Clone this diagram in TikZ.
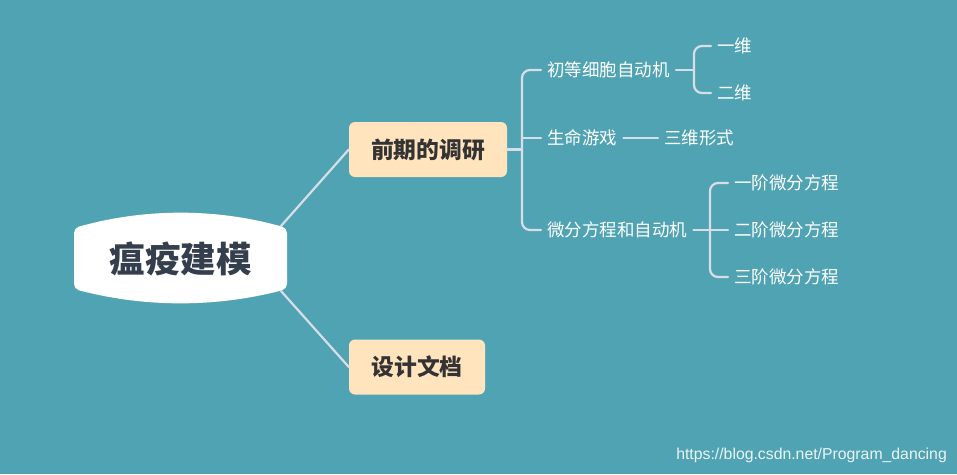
\documentclass[tikz,border=0pt]{standalone}
\usepackage{fontspec}
\setmainfont{Liberation Sans}
\newfontfamily\cjk{Noto Sans CJK SC}
\definecolor{bgc}{RGB}{80,163,178}
\definecolor{peach}{RGB}{255,228,190}
\definecolor{linec}{RGB}{216,222,232}
\definecolor{roottxt}{RGB}{52,62,76}
\definecolor{maintxt}{RGB}{51,51,51}
\begin{document}
\begin{tikzpicture}[x=1pt,y=-1pt,
  conn/.style={draw=linec,line width=2.2pt,line cap=round},
  mainbox/.style={fill=peach,rounded corners=6pt,text=maintxt,font=\cjk\bfseries\fontsize{22.8}{23}\selectfont,minimum height=55pt,inner sep=0pt},
  leaf/.style={text=white,font=\cjk\fontsize{17.5}{18}\selectfont,inner xsep=6pt,inner ysep=2pt}]
\fill[bgc] (0,0) rectangle (957,474);
\useasboundingbox (0,0) rectangle (957,474);
% root
\fill[white,rounded corners=5pt] (74,228) .. controls (145,208) and (216,208) .. (287,228) -- (287,289) .. controls (216,307.7) and (145,307.7) .. (74,289) -- cycle;
\node[text=roottxt,font=\cjk\bfseries\fontsize{35.5}{36}\selectfont] (root) at (180.5,259) {瘟疫建模};
\coordinate (rootA) at (281,226);
\coordinate (rootB) at (281,291);
% main nodes
\node[mainbox,minimum width=158pt] (pre) at (428,149.5) {前期的调研};
\node[mainbox,minimum width=136pt] (doc) at (417,367) {设计文档};
\draw[conn] (rootA) -- (pre.west);
\draw[conn] (rootB) -- (doc.west);
% level 2
\node[leaf,anchor=west] (a) at (541,70) {初等细胞自动机};
\node[leaf,anchor=west] (b) at (541,138) {生命游戏};
\node[leaf,anchor=west] (c) at (541,230) {微分方程和自动机};
\coordinate (j1) at (522,149.5);
\draw[conn] (pre.east) -- (j1);
\draw[conn,rounded corners=8pt] (a.west) -- (522,70) -- (522,230) -- (c.west);
\draw[conn] (522,138) -- (b.west);
% level 3 from a
\node[leaf,anchor=west] (a1) at (711,46) {一维};
\node[leaf,anchor=west] (a2) at (711,93) {二维};
\coordinate (j2) at (694,70);
\draw[conn] (a.east) -- (j2);
\draw[conn,rounded corners=8pt] (a1.west) -- (694,46) -- (694,93) -- (a2.west);
% level 3 from b
\node[leaf,anchor=west] (b1) at (658,138) {三维形式};
\draw[conn] (b.east) -- (b1.west);
% level 3 from c
\node[leaf,anchor=west] (c1) at (728,183) {一阶微分方程};
\node[leaf,anchor=west] (c2) at (728,230) {二阶微分方程};
\node[leaf,anchor=west] (c3) at (728,277) {三阶微分方程};
\coordinate (j3) at (710,230);
\draw[conn] (c.east) -- (j3);
\draw[conn,rounded corners=8pt] (c1.west) -- (710,183) -- (710,277) -- (c3.west);
\draw[conn] (j3) -- (c2.west);
% watermark
\node[anchor=east,text=white!88!bgc,font=\fontsize{15.8}{16}\selectfont,inner sep=0pt] (wm) at (947,455) {https://blog.csdn.net/Program\_dancing};
\end{tikzpicture}
\end{document}
